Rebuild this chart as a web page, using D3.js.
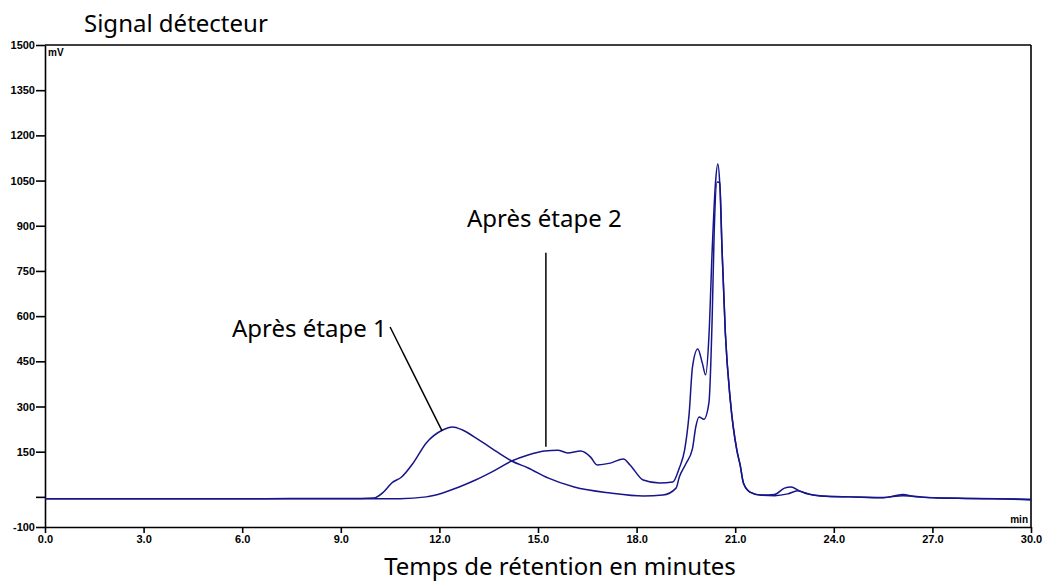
<!DOCTYPE html>
<html><head><meta charset="utf-8">
<script src="https://cdn.jsdelivr.net/npm/d3@7"></script>
<style>
body{margin:0;background:#fff;}
svg{display:block;}
</style></head>
<body>
<svg id="c" width="1044" height="581"></svg>
<script>
// ---- data ----
const xTicks = [0,3,6,9,12,15,18,21,24,27,30];
const yTicks = [-100,0,150,300,450,600,750,900,1050,1200,1350,1500];
const yTickLabels = ["-100","","150","300","450","600","750","900","1050","1200","1350","1500"];

// Après étape 1
const t1 = [0,3,6,9,9.6,10.0,10.3,10.55,10.85,11.2,11.6,12.1,12.4,12.7,13.2,13.8,14.2,14.7,15.3,16.1,17.2,18.2,18.8,19.2,19.3,19.5,19.7,19.8,19.9,20.05,20.2,20.3,20.36,20.45,20.53,20.6,20.7,20.85,21.05,21.15,21.25,21.45,21.75,22.2,22.6,22.9,23.2,23.6,24.5,25.5,26.1,27,28,29,30];
const v1 = [-6,-6,-6,-5,-5,-4,16,46,66,112,179,222,232,222,189,146,119,96,63,33,13,3,6,29,66,110,160,232,265,258,312,597,876,1045,1042,820,544,322,155,106,46,16,6,4,10,20,10,3,0,-2,4,-3,-5,-6,-8];

// Après étape 2
const t2 = [0,3,6,9,10.8,11.6,12.1,12.6,13.1,13.6,14.2,14.7,15.2,15.6,15.9,16.3,16.6,16.8,17.2,17.6,17.8,18.2,18.7,19.1,19.3,19.46,19.6,19.7,19.86,20.0,20.1,20.2,20.3,20.4,20.47,20.53,20.6,20.7,20.85,21.05,21.15,21.25,21.45,21.8,22.2,22.5,22.7,22.95,23.3,23.8,24.5,25.5,26.1,26.5,27.5,28.5,29.5,30];
const v2 = [-6,-6,-6,-6,-6,0,13,33,56,83,119,139,152,155,146,152,132,106,112,126,106,56,46,49,96,155,278,431,491,444,405,531,820,1042,1105,1040,820,544,322,155,106,46,16,6,8,29,33,20,8,2,0,-3,8,0,-4,-6,-8,-10];

// annotations (data units)
const annLabels = ["Après étape 1","Après étape 2"];
const annTextPos = [[5.69,531],[12.84,896]];
const annLines = [[[10.5,564],[12.08,219]],[[15.24,810],[15.24,166]]];

// ---- chart ----
const svg = d3.select("#c");
const x = d3.scaleLinear().domain([0,30]).range([45,1031]);
const y = d3.scaleLinear().domain([-100,1500]).range([527,45]);
const lineColor = "#16168a";
const sans = "'Noto Sans', 'DejaVu Sans', sans-serif";

// frame: top & right
svg.append("line").attr("x1",x(0)).attr("x2",x(30)).attr("y1",y(1500)).attr("y2",y(1500))
  .attr("stroke","#000").attr("stroke-width",1.6);
svg.append("line").attr("x1",x(30)).attr("x2",x(30)).attr("y1",y(1500)).attr("y2",y(-100))
  .attr("stroke","#000").attr("stroke-width",1.6);

const gy = svg.append("g").attr("transform",`translate(${x(0)},0)`)
  .call(d3.axisLeft(y).tickValues(yTicks).tickFormat((d,i)=>yTickLabels[i]).tickSize(9).tickSizeOuter(0).tickPadding(1));
const gx = svg.append("g").attr("transform",`translate(0,${y(-100)})`)
  .call(d3.axisBottom(x).tickValues(xTicks).tickFormat(d3.format(".1f")).tickSize(6).tickSizeOuter(0).tickPadding(2));
[gy,gx].forEach(g=>{
  g.selectAll("path,line").attr("stroke","#000").attr("stroke-width",1.6);
  g.selectAll("text").attr("fill","#000").style("font-family","'Liberation Sans', Arial, sans-serif")
    .style("font-size","11px").style("font-weight","bold");
});

// unit labels
svg.append("text").attr("x",x(0)+3).attr("y",y(1500)+11).text("mV")
  .style("font-family","'Liberation Sans', Arial, sans-serif").style("font-size","10px").style("font-weight","bold");
svg.append("text").attr("x",x(30)-3).attr("y",y(-100)-4).attr("text-anchor","end").text("min")
  .style("font-family","'Liberation Sans', Arial, sans-serif").style("font-size","10px").style("font-weight","bold");

// curves
const line = d3.line().x(d=>x(d[0])).y(d=>y(d[1])).curve(d3.curveMonotoneX);
[[t1,v1],[t2,v2]].forEach(([t,v])=>{
  svg.append("path").datum(t.map((d,i)=>[d,v[i]]))
    .attr("d",line).attr("fill","none").attr("stroke",lineColor).attr("stroke-width",1.5);
});

// annotations
annLines.forEach(l=>{
  svg.append("line").attr("x1",x(l[0][0])).attr("y1",y(l[0][1])).attr("x2",x(l[1][0])).attr("y2",y(l[1][1]))
    .attr("stroke","#000").attr("stroke-width",1.5);
});
annLabels.forEach((s,i)=>{
  svg.append("text").attr("x",x(annTextPos[i][0])).attr("y",y(annTextPos[i][1])).text(s)
    .style("font-family",sans).style("font-size","24px");
});

// titles
svg.append("text").attr("x",84).attr("y",32).text("Signal détecteur")
  .style("font-family",sans).style("font-size","24px");
svg.append("text").attr("x",560).attr("y",575).attr("text-anchor","middle").text("Temps de rétention en minutes")
  .style("font-family",sans).style("font-size","24px");
</script>
</body></html>
